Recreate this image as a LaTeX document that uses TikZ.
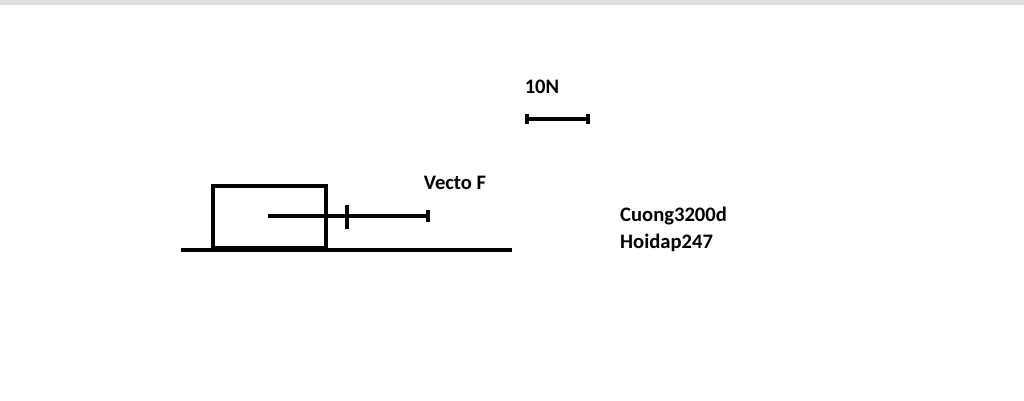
\documentclass[tikz,border=0pt]{standalone}
\usepackage{fontspec}
\setmainfont{Carlito}
\begin{document}
\begin{tikzpicture}[x=1pt,y=-1pt,
  ln/.style={line width=3.6pt},
  lbl/.style={font=\bfseries\fontsize{20.6}{24}\selectfont,inner sep=0pt}]
\useasboundingbox (0,0) rectangle (1024,401);
\fill[gray!25] (0,0) rectangle (1024,5);
\draw[ln] (213,186) rectangle (326,248);
\coordinate (g1) at (181,250); \coordinate (g2) at (512,250);
\draw[ln] (g1) -- (g2);
\coordinate (a1) at (268,216); \coordinate (a2) at (428,216);
\draw[ln] (a1) -- (a2);
\draw[ln] (428,210) -- (428,222);
\draw[ln] (347,205) -- (347,229);
\coordinate (s1) at (527,119); \coordinate (s2) at (588,119);
\draw[ln] (s1) -- (s2);
\draw[ln] (527,114) -- (527,124);
\draw[ln] (588,114) -- (588,124);
\node[lbl] (n10) at (542,87) {10N};
\node[lbl] (vf) at (455,183) {Vecto F};
\node[lbl,anchor=west] (c) at (620,216) {Cuong3200d};
\node[lbl,anchor=west] (h) at (620,243) {Hoidap247};
\end{tikzpicture}
\end{document}
